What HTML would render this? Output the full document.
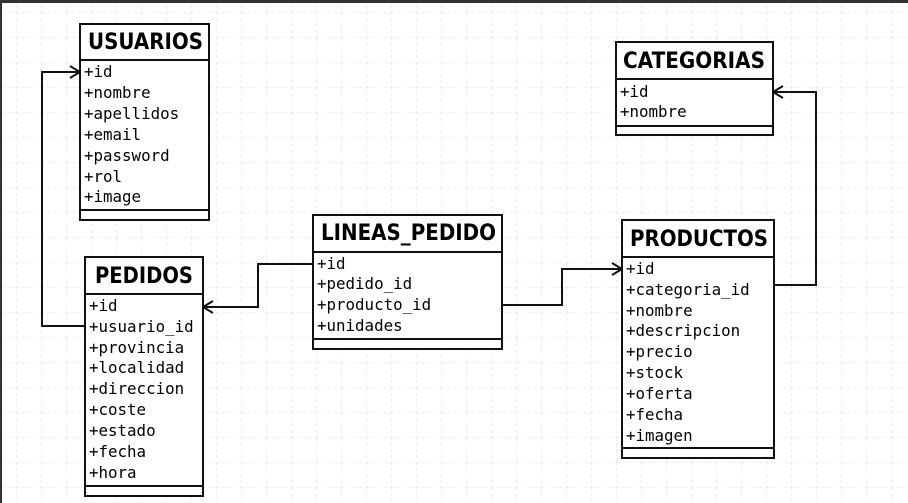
<!DOCTYPE html>
<html><head><meta charset="utf-8"><style>
html,body{margin:0;padding:0;background:#fff;width:908px;height:503px;overflow:hidden}
svg{display:block}
.h{font-family:"DejaVu Sans","Liberation Sans",sans-serif;font-weight:bold;font-size:22px;fill:#000}
.r{font-family:"DejaVu Sans Mono","Liberation Mono",monospace;font-size:15.8px;fill:#000}
.b{fill:#fff;stroke:#111;stroke-width:2}
.l{stroke:#111;stroke-width:2;fill:none}
</style></head><body>
<svg width="908" height="503" viewBox="0 0 908 503">
<defs>
<pattern id="g" width="25" height="25" patternUnits="userSpaceOnUse" x="16" y="12">
<path d="M0 0H25M0 0V25" stroke="#d8dde3" stroke-width="1" stroke-dasharray="3,3"/>
</pattern>
</defs>
<rect width="908" height="503" fill="url(#g)"/>
<rect x="0" y="0" width="908" height="3" fill="#333"/>
<rect x="0" y="0" width="2" height="503" fill="#333"/>

<path class="l" d="M85 326H42V72H80M70 66L80 72L70 78"/>
<path class="l" d="M313 264H258V307H203M213 301L203 307L213 313"/>
<path class="l" d="M502 305H562V269H622M612 263L622 269L612 275"/>
<path class="l" d="M774 285H816V92H773M783 86L773 92L783 98"/>

<rect class="b" x="80" y="24" width="129" height="196"/>
<path class="l" d="M80 60H209M80 210H209"/>
<text class="h" x="88" y="49" textLength="115" lengthAdjust="spacingAndGlyphs">USUARIOS</text>
<g class="r"><text x="84" y="77">+id</text><text x="84" y="98">+nombre</text><text x="84" y="119">+apellidos</text><text x="84" y="140">+email</text><text x="84" y="161">+password</text><text x="84" y="182">+rol</text><text x="84" y="202">+image</text></g>

<rect class="b" x="616" y="42" width="157" height="93"/>
<path class="l" d="M616 79H773M616 126H773"/>
<text class="h" x="623" y="68" textLength="142" lengthAdjust="spacingAndGlyphs">CATEGORIAS</text>
<g class="r"><text x="620" y="97">+id</text><text x="620" y="117">+nombre</text></g>

<rect class="b" x="85" y="257" width="118" height="239"/>
<path class="l" d="M85 294H203M85 486H203"/>
<text class="h" x="95" y="283" textLength="98" lengthAdjust="spacingAndGlyphs">PEDIDOS</text>
<g class="r"><text x="89" y="311">+id</text><text x="89" y="332">+usuario_id</text><text x="89" y="353">+provincia</text><text x="89" y="373">+localidad</text><text x="89" y="394">+direccion</text><text x="89" y="415">+coste</text><text x="89" y="436">+estado</text><text x="89" y="457">+fecha</text><text x="89" y="478">+hora</text></g>

<rect class="b" x="313" y="215" width="189" height="134"/>
<path class="l" d="M313 252H502M313 339H502"/>
<text class="h" x="321" y="240" textLength="175" lengthAdjust="spacingAndGlyphs">LINEAS_PEDIDO</text>
<g class="r"><text x="317" y="269">+id</text><text x="317" y="289">+pedido_id</text><text x="317" y="310">+producto_id</text><text x="317" y="331">+unidades</text></g>

<rect class="b" x="622" y="220" width="152" height="238"/>
<path class="l" d="M622 257H774M622 448H774"/>
<text class="h" x="630" y="246" textLength="138" lengthAdjust="spacingAndGlyphs">PRODUCTOS</text>
<g class="r"><text x="626" y="274">+id</text><text x="626" y="295">+categoria_id</text><text x="626" y="316">+nombre</text><text x="626" y="336">+descripcion</text><text x="626" y="357">+precio</text><text x="626" y="378">+stock</text><text x="626" y="399">+oferta</text><text x="626" y="420">+fecha</text><text x="626" y="441">+imagen</text></g>
</svg>
</body></html>
